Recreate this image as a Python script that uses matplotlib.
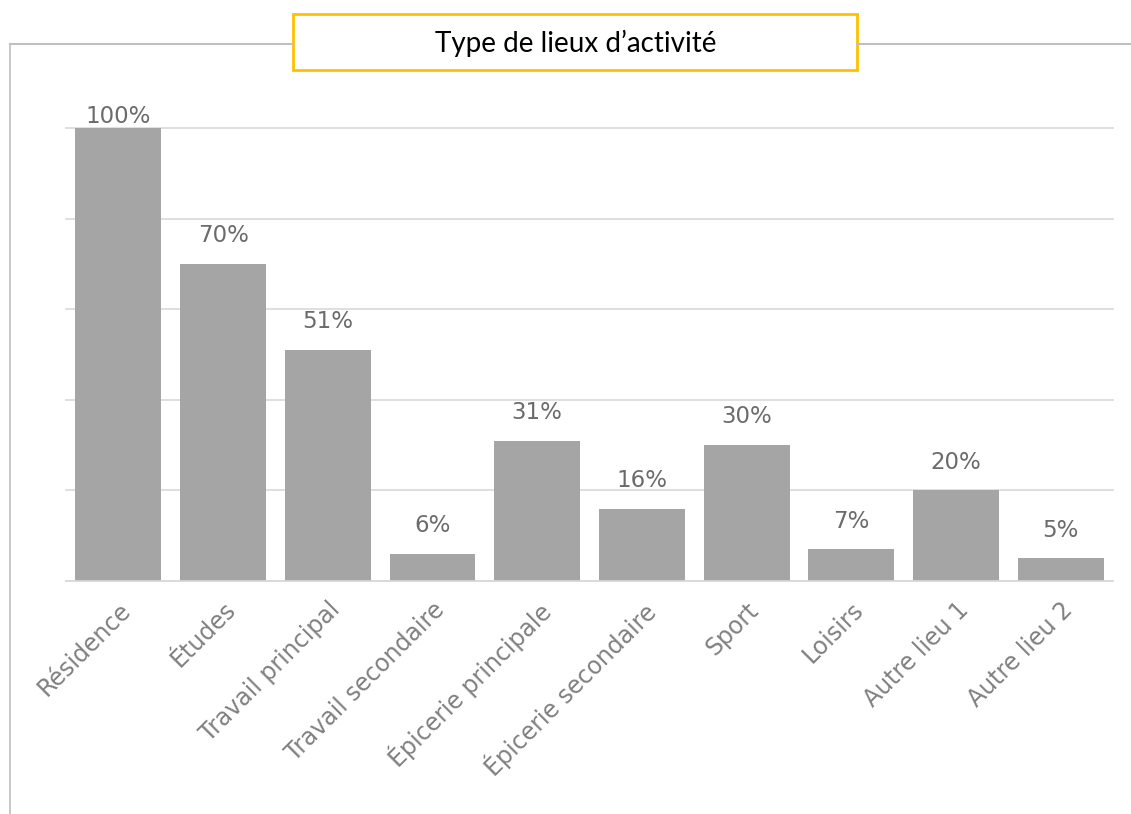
import numpy as np
import matplotlib.pyplot as plt
from matplotlib.patches import Rectangle
from matplotlib.lines import Line2D

categories = ['Résidence', 'Études', 'Travail principal', 'Travail secondaire',
              'Épicerie principale', 'Épicerie secondaire', 'Sport', 'Loisirs',
              'Autre lieu 1', 'Autre lieu 2']
values = [100, 70, 51, 6, 31, 16, 30, 7, 20, 5]
title = "Type de lieux d\u2019activité"

fig = plt.figure(figsize=(11.31, 8.14), dpi=100)
ax = fig.add_axes([0.0584, 0.2862, 0.9257, 0.5565])

x = np.arange(len(categories))
ax.bar(x, values, width=0.82, color='#A5A5A5', zorder=2)
ax.set_xlim(-0.5, len(categories) - 0.5)
ax.set_ylim(0, 100)
ax.set_yticks([0, 20, 40, 60, 80, 100])
ax.yaxis.grid(True, color='#D9D9D9', linewidth=1.2, zorder=0, clip_on=False)
ax.tick_params(axis='y', length=0, labelleft=False)
ax.tick_params(axis='x', length=0, pad=12)
for s in ['top', 'right', 'left']:
    ax.spines[s].set_visible(False)
ax.spines['bottom'].set_color('#D9D9D9')
ax.spines['bottom'].set_linewidth(1.2)

ax.set_xticks(x)
ax.set_xticklabels(categories, rotation=45, ha='right', rotation_mode='anchor',
                   fontsize=17, color='#808080')

for xi, v in zip(x, values):
    off = 0 if v >= 100 else 12
    ax.annotate(f'{v}%', (xi, v), xytext=(0, off), textcoords='offset points',
                ha='center', va='bottom', fontsize=16.5, color='#6B6B6B')

# outer frame lines and title box
fig.add_artist(Line2D([10 / 1131, 10 / 1131], [0, 1 - 44 / 814], color='#BFBFBF', lw=1.2))
fig.add_artist(Line2D([10 / 1131, 293 / 1131], [1 - 44 / 814] * 2, color='#BFBFBF', lw=1.5))
fig.add_artist(Line2D([857 / 1131, 1], [1 - 44 / 814] * 2, color='#BFBFBF', lw=1.5))
fig.add_artist(Rectangle((293 / 1131, 1 - 70 / 814), (857 - 293) / 1131, 56 / 814,
                         transform=fig.transFigure, facecolor='white',
                         edgecolor='#FFC000', lw=2))
fig.text(576 / 1131, 1 - 43 / 814, title, ha='center', va='center',
         fontsize=20, family='Lato', color='black')

plt.savefig('out.png', dpi=100)
